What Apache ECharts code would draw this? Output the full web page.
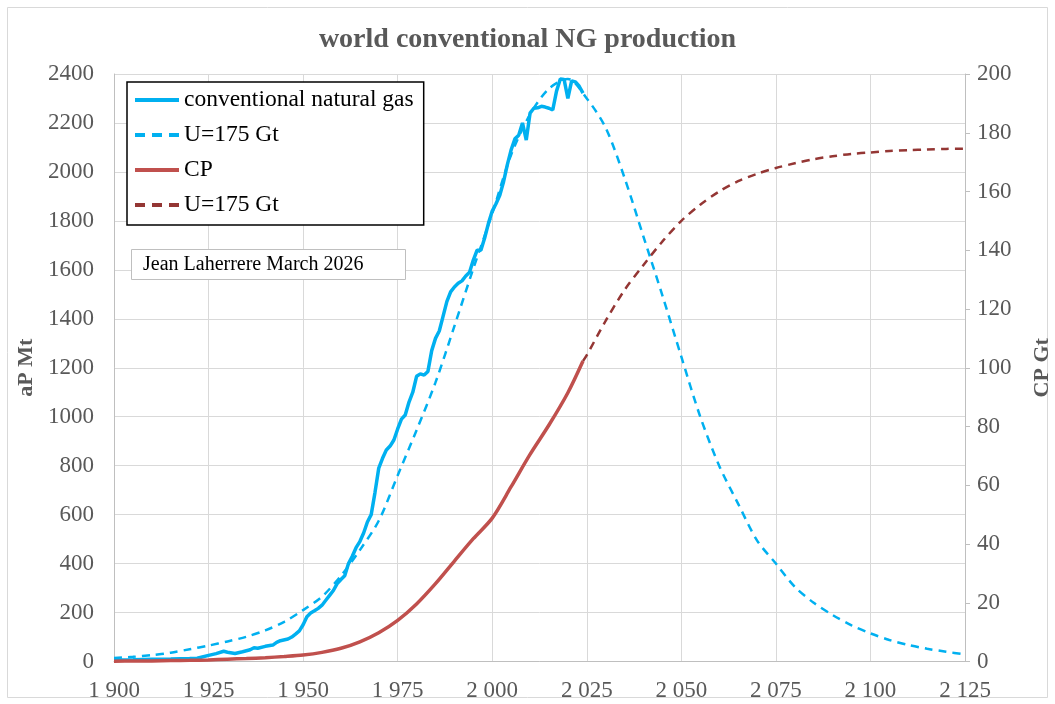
<!DOCTYPE html>
<html>
<head>
<meta charset="utf-8">
<script src="https://cdn.jsdelivr.net/npm/echarts@6/dist/echarts.min.js"></script>
<style>
html,body{margin:0;padding:0;background:#fff;}
#chart{width:1055px;height:704px;}
</style>
</head>
<body>
<div id="chart"></div>
<script>
// ---- data ----
const gasYears = [1900,1905,1910,1915,1920,1922,1925,1927,1929,1930,1932,1934,1936,1937,1938,1940,1942,1943,1944,1946,1947,1948,1949,
  1950,1951,1952,1953,1954,1955,1956,1957,1958,1959,1960,1961,1962,1963,1964,1965,1966,1967,1968,1969,
  1970,1971,1972,1973,1974,1975,1976,1977,1978,1979,1980,1981,1982,1983,1984,1985,1986,1987,1988,1989,
  1990,1991,1992,1993,1994,1995,1996,1997,1998,1999,2000,2001,2002,2003,2004,2005,2006,2007,2008,2009,
  2010,2011,2012,2013,2014,2015,2016,2017,2018,2019,2020,2021,2022,2023,2024];
const gasValues = [6,7,9,10,12,13,25,32,42,38,33,40,48,56,54,62,67,78,85,92,100,112,125,
  150,183,198,207,217,230,250,270,290,318,335,350,400,430,465,490,525,570,600,690,
  790,830,864,880,905,950,990,1007,1060,1100,1165,1175,1170,1185,1270,1320,1350,1410,1470,1510,
  1530,1545,1555,1575,1590,1640,1680,1680,1730,1790,1840,1870,1905,1960,2030,2090,2135,2150,2200,2130,
  2240,2260,2262,2268,2265,2260,2253,2330,2380,2378,2300,2372,2368,2350,2322];

const modelYears = [1900,1905,1910,1915,1920,1925,1930,1935,1940,1945,1950,1955,1960,1965,1970,1975,1980,1985,1990,1995,
  2000,2005,2010,2015,2020,2025,2030,2035,2040,2045,2050,2055,2060,2065,2070,2075,2080,2085,2090,2095,
  2100,2105,2110,2115,2120,2125];
const modelGas = [14,19,26,36,50,65,82,101,127,162,210,265,350,455,575,760,945,1140,1370,1605,
  1830,2070,2235,2340,2380,2300,2180,1975,1735,1495,1245,1000,800,645,495,400,305,240,190,148,
  115,88,68,52,40,29];

const cpYears = [1900,1905,1910,1915,1920,1925,1930,1935,1940,1945,1950,1955,1960,1965,1970,1975,1980,1985,1990,1995,
  2000,2005,2010,2015,2020,2024];
const cpValues = [0.1,0.15,0.2,0.3,0.4,0.55,0.8,1.0,1.3,1.7,2.2,3.1,4.5,6.7,9.8,14.0,19.6,26.5,34.2,41.8,
  48.8,59.5,70.5,80.5,91.5,102.3];

const cpModelYears = [2024,2025,2030,2035,2040,2045,2050,2055,2060,2065,2070,2075,2080,2085,2090,2095,2100,2105,2110,2115,2120,2125];
const cpModelValues = [102.3,104.3,116,126.5,135,143,150,155.5,160,163.5,166,168,169.6,171,172,172.8,173.3,173.8,174.1,174.3,174.5,174.6];

const xMin = 1900, xMax = 2125, xStep = 25;
const leftMax = 2400, leftStep = 200;
const rightMax = 200, rightStep = 20;

const pairs = (xs, ys) => xs.map((x, i) => [x, ys[i]]);
const FONT = '"Liberation Serif", "Times New Roman", serif';
const GREY = '#595959';
const SOLID_ICON = 'path://M0,0h44v4h-44z';
const DASH_ICON = 'path://M0,0h10v4h-10zM17,0h10v4h-10zM34,0h10v4h-10z';

const chart = echarts.init(document.getElementById('chart'), null, {renderer: 'canvas'});
chart.setOption({
  backgroundColor: '#fff',
  animation: false,
  title: {
    text: 'world conventional NG production',
    left: 'center', top: 21,
    textStyle: {fontFamily: FONT, fontSize: 28, fontWeight: 'bold', color: GREY}
  },
  grid: {left: 114, right: 90, top: 74, bottom: 42.5, containLabel: false, outerBoundsMode: 'none'},
  legend: {
    orient: 'vertical', left: 127, top: 82,
    padding: [6, 10, 8, 8],
    itemGap: 11, itemWidth: 44, itemHeight: 22,
    borderColor: '#000', borderWidth: 1.5, backgroundColor: '#fff',
    textStyle: {fontFamily: FONT, fontSize: 23.5, color: '#000'},
    formatter: n => n.trim(),
    data: [
      {name: 'conventional natural gas', icon: SOLID_ICON},
      {name: 'U=175 Gt', icon: DASH_ICON},
      {name: 'CP', icon: SOLID_ICON},
      {name: 'U=175 Gt ', icon: DASH_ICON}
    ]
  },
  xAxis: {
    type: 'value', min: xMin, max: xMax, interval: xStep,
    axisLine: {show: true, lineStyle: {color: '#bfbfbf', width: 1}},
    axisTick: {show: false},
    splitLine: {show: true, lineStyle: {color: '#d9d9d9', width: 1}},
    axisLabel: {
      fontFamily: FONT, fontSize: 23, color: GREY, margin: 18,
      formatter: v => String(v).replace(/\B(?=(\d{3})+(?!\d))/g, ' ')
    }
  },
  yAxis: [
    {
      type: 'value', min: 0, max: leftMax, interval: leftStep,
      name: 'aP Mt', nameLocation: 'middle', nameGap: 60, nameRotate: 90,
      nameTextStyle: {fontFamily: FONT, fontSize: 22, fontWeight: 'bold', color: GREY},
      axisLine: {show: true, lineStyle: {color: '#bfbfbf', width: 1}},
      axisTick: {show: false},
      splitLine: {show: true, lineStyle: {color: '#d9d9d9', width: 1}},
      axisLabel: {fontFamily: FONT, fontSize: 23, color: GREY, margin: 20, formatter: v => String(v)}
    },
    {
      type: 'value', min: 0, max: rightMax, interval: rightStep, position: 'right',
      name: 'CP Gt', nameLocation: 'middle', nameGap: 66, nameRotate: 90,
      nameTextStyle: {fontFamily: FONT, fontSize: 22, fontWeight: 'bold', color: GREY},
      axisLine: {show: true, lineStyle: {color: '#bfbfbf', width: 1}},
      axisTick: {show: true, length: 5, lineStyle: {color: '#bfbfbf'}},
      splitLine: {show: false},
      axisLabel: {fontFamily: FONT, fontSize: 23, color: GREY, margin: 12, formatter: v => String(v)}
    }
  ],
  series: [
    {
      name: 'U=175 Gt', type: 'line', yAxisIndex: 0, showSymbol: false, symbol: 'none', smooth: 0.3,
      data: pairs(modelYears, modelGas),
      lineStyle: {color: '#00b0f0', width: 2.5, type: [8, 6]}, itemStyle: {color: '#00b0f0'}, z: 2
    },
    {
      name: 'conventional natural gas', type: 'line', yAxisIndex: 0, showSymbol: false, symbol: 'none',
      data: pairs(gasYears, gasValues),
      lineStyle: {color: '#00b0f0', width: 3.5}, itemStyle: {color: '#00b0f0'}, z: 3
    },
    {
      name: 'CP', type: 'line', yAxisIndex: 1, showSymbol: false, symbol: 'none', smooth: 0.3,
      data: pairs(cpYears, cpValues),
      lineStyle: {color: '#c0504d', width: 3.5}, itemStyle: {color: '#c0504d'}, z: 3
    },
    {
      name: 'U=175 Gt ', type: 'line', yAxisIndex: 1, showSymbol: false, symbol: 'none', smooth: 0.3,
      data: pairs(cpModelYears, cpModelValues),
      lineStyle: {color: '#943634', width: 2.5, type: [8, 6]}, itemStyle: {color: '#943634'}, z: 2
    }
  ],
  graphic: [
    {type: 'rect', shape: {x: 7.5, y: 7.5, width: 1040, height: 690}, style: {fill: 'none', stroke: '#d9d9d9', lineWidth: 1}, z: -10, silent: true},
    {type: 'rect', shape: {x: 131.5, y: 249.5, width: 274, height: 30}, style: {fill: '#fff', stroke: '#bfbfbf', lineWidth: 1}, z: 50},
    {type: 'text', x: 143, y: 265, style: {text: 'Jean Laherrere March 2026', font: '20px ' + FONT, fill: '#000', textVerticalAlign: 'middle', verticalAlign: 'middle'}, z: 51}
  ]
});
</script>
</body>
</html>
